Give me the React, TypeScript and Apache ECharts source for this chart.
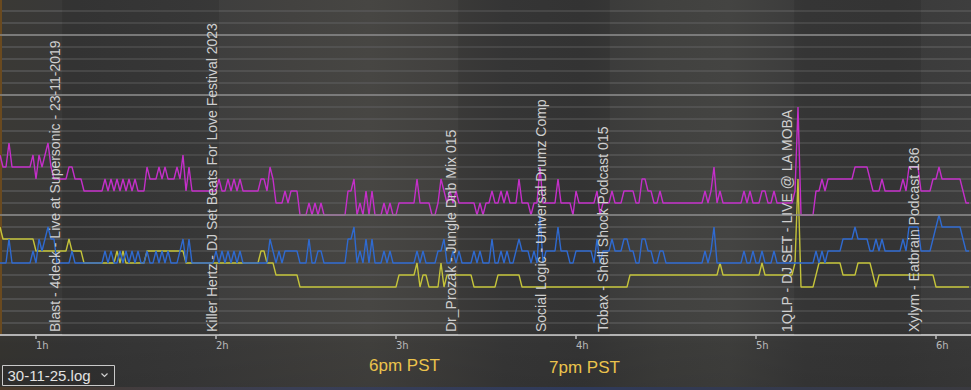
import React, { useEffect, useRef } from "react";
import * as echarts from "echarts";

// time axis in minutes since log start
const START_MIN = 48;
const END_MIN = 48 + 971 / 3;
const HOUR_TICKS = [60, 120, 180, 240, 300, 360];

// listener counts, one value per minute starting at START_MIN
const MAGENTA = [
  15,14,14,16,14,14,14,14,14,14,
  14,15,13,15,14,15,16,14,13,13,
  13,13,13,14,14,13,13,13,12,12,
  12,12,12,12,12,13,12,13,12,13,
  12,13,12,13,12,13,12,12,12,14,
  13,13,13,14,13,14,13,13,13,14,
  13,15,12,14,12,12,12,12,12,12,
  12,12,12,13,12,12,13,12,13,12,
  13,12,12,12,12,12,12,13,13,12,
  14,13,11,11,11,12,11,12,12,12,
  10,10,10,11,10,11,10,11,10,10,
  10,10,10,10,10,10,12,12,13,10,
  11,10,12,10,12,10,10,10,11,10,
  11,10,10,11,11,11,11,11,11,13,
  11,11,11,11,10,10,11,13,12,11,
  12,11,12,11,11,11,11,11,11,10,
  11,10,11,11,12,11,11,12,11,12,
  11,11,11,13,11,11,11,10,11,11,
  14,11,11,11,11,11,13,11,11,11,
  11,10,12,11,11,11,11,11,11,12,
  10,11,11,11,12,11,11,11,12,12,
  12,12,11,11,13,13,12,12,11,11,
  12,11,11,11,11,11,11,11,11,11,
  11,11,11,11,11,12,11,12,14,11,
  12,11,11,11,11,11,11,11,12,11,
  12,11,11,11,12,12,11,11,12,11,
  11,11,11,11,11,12,19,10,10,10,
  10,10,12,12,13,12,13,13,13,13,
  13,13,13,13,13,14,14,14,14,14,
  13,12,12,12,13,12,12,12,12,12,
  12,13,12,14,14,14,14,12,12,12,
  12,13,13,14,13,13,13,13,13,13,
  13,12,11,11,
];

const BLUE = [
  6,6,6,8,6,6,6,6,6,6,
  6,7,6,8,7,8,9,8,8,6,
  6,6,6,6,7,6,6,6,6,6,
  6,6,6,6,6,7,6,7,6,6,
  7,6,7,6,7,6,7,6,6,7,
  6,6,7,6,7,6,7,6,6,6,
  7,8,6,8,6,6,6,6,6,6,
  6,6,7,6,7,6,7,6,7,6,
  7,6,6,6,6,6,6,6,6,6,
  8,7,6,7,6,7,7,7,7,7,
  6,6,6,8,6,6,7,7,6,6,
  6,6,6,6,6,6,8,8,9,6,
  7,6,8,6,8,6,6,6,7,6,
  7,6,6,6,6,6,6,6,6,7,
  6,7,6,6,6,6,7,7,8,6,
  6,7,6,7,6,6,6,6,7,6,
  7,6,6,6,8,6,6,7,6,7,
  6,6,7,8,7,7,7,6,7,6,
  10,6,7,7,7,7,9,7,7,7,
  6,6,7,7,7,7,7,7,6,8,
  6,7,7,7,8,7,7,7,8,8,
  7,7,6,6,8,8,7,7,6,6,
  7,7,6,6,6,6,6,6,6,6,
  6,6,6,6,6,7,6,7,9,6,
  6,6,6,6,6,6,6,6,7,6,
  6,7,6,6,7,6,6,6,7,6,
  6,6,6,6,6,6,6,6,6,6,
  6,6,7,6,7,6,7,7,7,7,
  7,8,8,8,8,9,8,8,8,8,
  7,7,8,7,8,7,7,7,7,7,
  7,8,7,9,9,9,9,7,7,7,
  7,8,9,10,9,9,9,9,9,9,
  9,8,7,7,
];

const YELLOW = [
  9,8,8,8,8,8,8,8,8,8,
  8,8,7,7,7,7,7,7,7,7,
  7,7,7,8,7,7,7,7,6,6,
  6,6,6,6,6,6,6,6,6,7,
  6,7,6,6,6,6,6,6,6,7,
  7,7,7,7,7,7,7,7,7,7,
  7,7,6,6,6,6,6,6,6,6,
  6,6,6,6,6,6,6,6,6,6,
  6,6,6,6,6,6,6,7,7,6,
  6,6,5,5,5,5,5,5,5,5,
  4,4,4,4,4,4,4,4,4,4,
  4,4,4,4,4,4,4,4,4,4,
  4,4,4,4,4,4,4,4,4,4,
  4,4,4,5,5,5,5,5,5,6,
  4,5,5,4,4,4,4,6,4,5,
  5,5,5,5,5,5,5,5,4,4,
  4,4,4,4,4,4,5,5,5,5,
  5,5,5,5,4,4,4,4,4,4,
  4,4,4,4,4,4,4,4,4,4,
  4,4,4,4,4,4,4,4,4,4,
  4,4,4,4,4,4,4,4,4,4,
  5,5,5,5,5,5,5,5,5,5,
  5,5,5,5,5,5,5,5,5,5,
  5,5,5,5,5,5,5,5,5,5,
  6,5,5,5,5,5,5,5,5,5,
  5,5,5,5,6,5,5,5,5,5,
  5,5,5,5,5,6,13,4,4,4,
  4,4,5,6,6,6,6,6,6,6,
  6,5,5,5,5,5,6,6,6,6,
  6,5,4,5,5,5,5,5,5,5,
  5,5,5,5,5,5,5,5,5,5,
  5,5,4,4,4,4,4,4,4,4,
  4,4,4,4,
];

// tracks (start minute and name)
const TRACK_STARTS = [68.7, 121, 200.7, 230.7, 251.3, 312.7, 355];
const TRACK_NAMES = [
  "Blast - 4deck - Live at Supersonic - 23-11-2019",
  "Killer Hertz - DJ Set Beats For Love Festival 2023",
  "Dr_Prozak - Jungle Dnb Mix 015",
  "Social Logic - Universal Drumz Comp",
  "Tobax - Shell Shock Podcast 015",
  "1QLP - DJ SET - LIVE @ LA MOBA",
  "Xylym - Eatbrain Podcast 186",
];
const SHADED_TRACKS = [0, 2, 3, 5];
const REFERENCE_LEVELS = [10, 20, 25];
const LOCAL_TIME_MIN = [171, 231];
const LOCAL_TIME_LABELS = ["6pm PST", "7pm PST"];
const LOG_FILE = "30-11-25.log";

const toPoints = (arr: number[]) => arr.map((v, i) => [START_MIN + i, v]);

export default function App() {
  const ref = useRef<HTMLDivElement>(null);
  useEffect(() => {
    document.body.style.margin = "0";
    const el = ref.current!;
    const chart = echarts.init(el, null, { renderer: "svg" });

    const bandData = SHADED_TRACKS.map((i) => [
      { xAxis: TRACK_STARTS[i] },
      { xAxis: i + 1 < TRACK_STARTS.length ? TRACK_STARTS[i + 1] : END_MIN },
    ]);

    const line = (name: string, color: string, data: number[], extra: any = {}) => ({
      name,
      type: "line",
      data: toPoints(data),
      showSymbol: false,
      symbol: "none",
      silent: true,
      lineStyle: { color, width: 1.4 },
      itemStyle: { color },
      ...extra,
    });

    chart.setOption({
      animation: false,
      backgroundColor: "transparent",
      grid: { left: 0, right: 0, top: -1, bottom: 55, outerBoundsMode: "none" },
      xAxis: {
        type: "value",
        min: START_MIN,
        max: END_MIN,
        axisLine: { show: true, lineStyle: { color: "#d6d6d6", width: 1.5 } },
        axisTick: {
          show: true,
          customValues: HOUR_TICKS,
          length: 4,
          lineStyle: { color: "#bdbdbd", width: 1.5 },
        },
        axisLabel: {
          customValues: HOUR_TICKS,
          formatter: (v: number) => `${Math.round(v / 60)}h`,
          color: "#b8b8b8",
          fontSize: 10,
          fontFamily: '"DejaVu Sans"',
          align: "left",
          margin: 5,
        },
        splitLine: { show: false },
      },
      yAxis: {
        type: "value",
        min: 0,
        max: 28,
        interval: 1,
        axisLine: { show: false },
        axisTick: { show: false },
        axisLabel: { show: false },
        splitLine: { show: true, lineStyle: { color: "#575757", width: 1.5 } },
      },
      series: [
        line("yellow", "#c4c33a", YELLOW, {
          markArea: {
            silent: true,
            itemStyle: { color: "rgba(0,0,0,0.09)" },
            data: bandData,
          },
          markLine: {
            silent: true,
            symbol: "none",
            label: { show: false },
            lineStyle: { color: "#8a8a8a", type: "solid", width: 1.5 },
            data: REFERENCE_LEVELS.map((v) => ({ yAxis: v })),
          },
        }),
        line("blue", "#2f6ad0", BLUE),
        line("magenta", "#c42fc9", MAGENTA),
      ],
    });

    const zeroY = chart.convertToPixel({ xAxisIndex: 0, yAxisIndex: 0 }, [START_MIN, 0])[1];
    const trackTexts = TRACK_NAMES.map((name, i) => {
      const px = chart.convertToPixel({ xAxisIndex: 0, yAxisIndex: 0 }, [TRACK_STARTS[i], 0])[0];
      return {
        type: "text",
        x: px,
        y: zeroY - 3,
        rotation: Math.PI / 2,
        silent: true,
        z: 10,
        style: {
          text: name,
          fill: "#cfcfcf",
          font: '14px "Liberation Sans"',
          textAlign: "left",
          textVerticalAlign: "bottom",
        },
      };
    });
    const localTexts = LOCAL_TIME_LABELS.map((t, i) => {
      const px = chart.convertToPixel({ xAxisIndex: 0, yAxisIndex: 0 }, [LOCAL_TIME_MIN[i], 0])[0];
      return {
        type: "text",
        x: px,
        y: 365 + i * 2,
        silent: true,
        z: 10,
        style: {
          text: t,
          fill: "#ebc34c",
          font: '17px "Liberation Sans"',
          textAlign: "left",
          textVerticalAlign: "middle",
        },
      };
    });

    chart.setOption({
      graphic: [
        {
          type: "rect",
          shape: { x: 0, y: 0, width: 2, height: 334 },
          style: { fill: "#6a4a1f" },
          silent: true,
          z: 1,
        },
        {
          type: "rect",
          shape: { x: 0, y: 387, width: 971, height: 3 },
          style: {
            fill: new echarts.graphic.LinearGradient(0, 0, 1, 0, [
              { offset: 0, color: "#4a3a2a" },
              { offset: 0.3, color: "#3a3f55" },
              { offset: 0.6, color: "#2f3a5a" },
              { offset: 1, color: "#3a3a40" },
            ]),
          },
          silent: true,
          z: 1,
        },
        ...trackTexts,
        ...localTexts,
        {
          type: "group",
          z: 20,
          silent: true,
          children: [
            {
              type: "rect",
              shape: { x: 2.5, y: 365.5, width: 112, height: 20 },
              style: { fill: "rgba(40,40,40,0.35)", stroke: "#c9c9c9", lineWidth: 1 },
            },
            {
              type: "text",
              x: 7.5,
              y: 375.5,
              style: {
                text: LOG_FILE,
                fill: "#e2e2e2",
                font: '15px "Liberation Sans"',
                textAlign: "left",
                textVerticalAlign: "middle",
              },
            },
            {
              type: "polyline",
              shape: { points: [[101.5, 373.5], [104.5, 376.5], [107.5, 373.5]] },
              style: { stroke: "#d0d0d0", lineWidth: 1.2, fill: "none" },
            },
          ],
        },
      ],
    });

    return () => chart.dispose();
  }, []);

  return (
    <div
      ref={ref}
      style={{
        position: "fixed",
        left: 0,
        top: 0,
        width: 971,
        height: 390,
        background:
          "linear-gradient(180deg, rgba(0,0,0,0) 0%, rgba(0,0,0,0) 84%, rgba(0,0,0,0.1) 88%, rgba(0,0,0,0.14) 100%), linear-gradient(90deg, #3a3935 0%, #393939 8%, #3d3d3d 20%, #434240 30%, #474643 38%, #42413f 45%, #3b3b3b 52%, #393939 60%, #41413f 68%, #444442 75%, #3b3b3b 83%, #3a3a3a 92%, #3e3e3e 100%)",
      }}
    />
  );
}
